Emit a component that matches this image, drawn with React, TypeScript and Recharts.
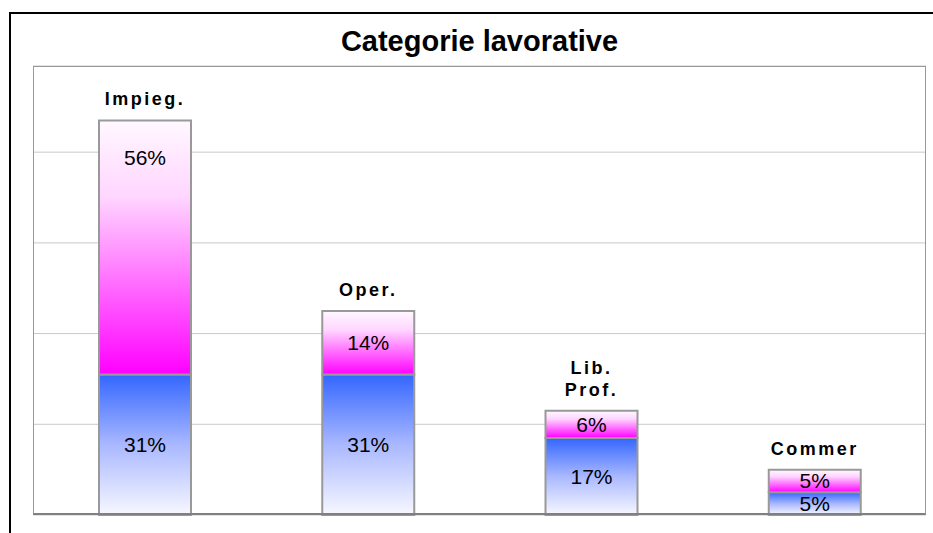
import { BarChart, Bar, XAxis, YAxis, CartesianGrid, LabelList } from "recharts";

const categories = ["Impieg.", "Oper.", "Lib. Prof.", "Commer"];
const lowerValues = [31, 31, 17, 5];
const upperValues = [56, 14, 6, 5];
const yTicks = [0, 20, 40, 60, 80];

const data = categories.map((name, i) => ({
  name,
  lower: lowerValues[i],
  upper: upperValues[i],
}));

const WIDTH = 933;
const HEIGHT = 533;
const MARGIN = { top: 66, right: 7, bottom: 18, left: 33 };
const FONT = '"Liberation Sans", Arial, sans-serif';

function ValueLabel(props: any) {
  const { x, y, width, height, value } = props;
  const cx = x + width / 2;
  // tall segments get their label near the top, like the original
  const cy = height > 150 ? y + 37 : y + height / 2;
  return (
    <text
      x={cx}
      y={cy}
      textAnchor="middle"
      dominantBaseline="central"
      fontFamily={FONT}
      fontSize={21}
      fill="#000"
    >
      {value}%
    </text>
  );
}

function CategoryLabel(props: any) {
  const { x, y, width, value } = props;
  const lines = String(value).split(" ");
  const cx = x + width / 2;
  return (
    <text
      textAnchor="middle"
      fontFamily={FONT}
      fontSize={18}
      fontWeight="bold"
      letterSpacing={2.5}
      fill="#000"
    >
      {lines.map((line, i) => (
        <tspan key={line} x={cx} y={y - 15 - (lines.length - 1 - i) * 22}>
          {line}
        </tspan>
      ))}
    </text>
  );
}

export default function App() {
  return (
    <div
      style={{
        position: "fixed",
        left: 0,
        top: 0,
        width: WIDTH,
        height: HEIGHT,
        background: "#fff",
        fontFamily: FONT,
      }}
    >
      <div
        style={{
          position: "absolute",
          left: 9,
          top: 12,
          width: 940,
          height: 540,
          border: "2px solid #000",
        }}
      />
      <div
        style={{
          position: "absolute",
          left: MARGIN.left,
          top: 24,
          width: WIDTH - MARGIN.left - MARGIN.right,
          textAlign: "center",
          fontSize: 29,
          lineHeight: "34px",
          fontWeight: "bold",
          color: "#000",
        }}
      >
        Categorie lavorative
      </div>
      <div style={{ position: "absolute", left: 0, top: 0 }}>
        <BarChart width={WIDTH} height={HEIGHT} data={data} margin={MARGIN}>
          <defs>
            <linearGradient id="blueFill" x1="0" y1="0" x2="0" y2="1">
              <stop offset="0" stopColor="#3366ff" />
              <stop offset="0.5" stopColor="#a9b8ff" />
              <stop offset="1" stopColor="#f8f8ff" />
            </linearGradient>
            <linearGradient id="pinkFill" x1="0" y1="0" x2="0" y2="1">
              <stop offset="0" stopColor="#fff8ff" />
              <stop offset="0.3" stopColor="#ffd6ff" />
              <stop offset="1" stopColor="#ff00ff" />
            </linearGradient>
          </defs>
          <CartesianGrid vertical={false} stroke="#c8c8c8" />
          <XAxis dataKey="name" hide />
          <YAxis hide domain={[0, 99]} ticks={yTicks} />
          <Bar
            dataKey="lower"
            stackId="a"
            fill="url(#blueFill)"
            stroke="#999"
            strokeWidth={2}
            barSize={92}
            isAnimationActive={false}
          >
            <LabelList dataKey="lower" content={ValueLabel} />
          </Bar>
          <Bar
            dataKey="upper"
            stackId="a"
            fill="url(#pinkFill)"
            stroke="#999"
            strokeWidth={2}
            barSize={92}
            isAnimationActive={false}
          >
            <LabelList dataKey="upper" content={ValueLabel} />
            <LabelList dataKey="name" content={CategoryLabel} />
          </Bar>
        </BarChart>
      </div>
      <div
        style={{
          position: "absolute",
          left: MARGIN.left,
          top: MARGIN.top,
          width: WIDTH - MARGIN.left - MARGIN.right,
          height: HEIGHT - MARGIN.top - MARGIN.bottom,
          boxSizing: "border-box",
          border: "1px solid #999",
          borderBottom: "2px solid #808080",
          pointerEvents: "none",
        }}
      />
    </div>
  );
}
